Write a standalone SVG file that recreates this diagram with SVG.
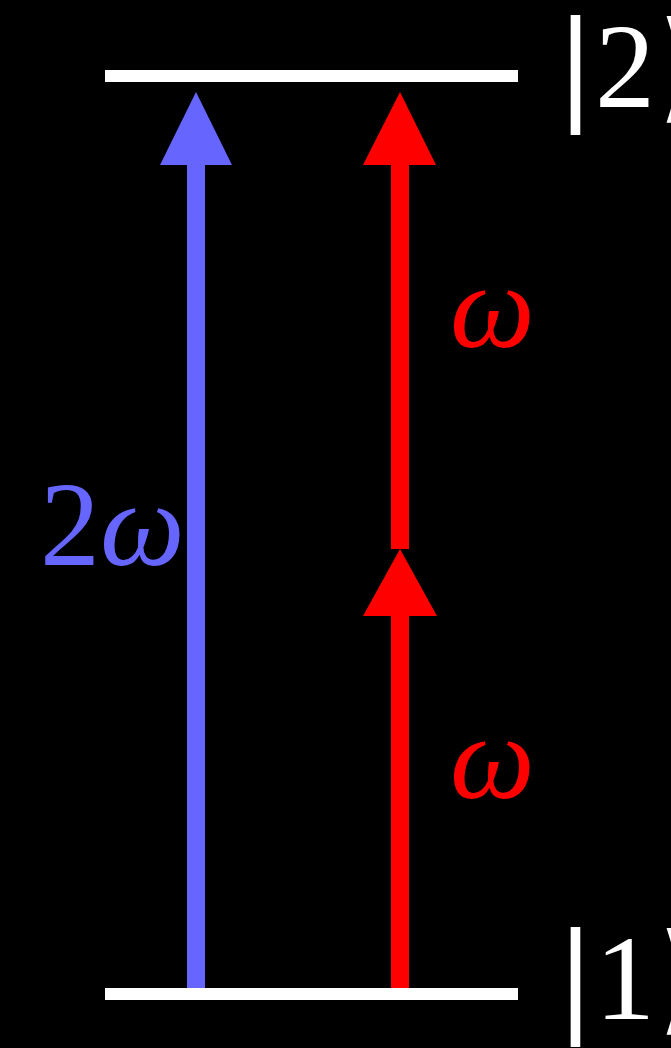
<svg xmlns="http://www.w3.org/2000/svg" width="671" height="1048" viewBox="0 0 671 1048">
<style>
.lvl{stroke:#fff;stroke-width:12;fill:none}
.t{font-size:120px}
.ser{font-family:"Liberation Serif","DejaVu Serif",serif}
.dj{font-family:"DejaVu Serif",serif}
.it{font-style:italic}
.w{fill:#fff}
.blue{fill:#6666ff}
.red{fill:#ff0000}
</style>
<rect width="671" height="1048" fill="#000"/>
<g id="level2">
<line class="lvl" x1="105" y1="76" x2="518" y2="76"/>
<text class="t w dj" x="575.5" y="107" text-anchor="middle">|</text>
<text class="t w ser" x="595" y="107">2</text>
<text class="t w dj" x="657" y="107">⟩</text>
</g>
<g id="level1">
<line class="lvl" x1="105" y1="994" x2="518" y2="994"/>
<text class="t w dj" x="575.5" y="1019" text-anchor="middle">|</text>
<text class="t w ser" x="595" y="1019">1</text>
<text class="t w dj" x="657" y="1019">⟩</text>
</g>
<g id="connectors">
<g id="blue-arrow">
<rect class="blue" x="187" y="160" width="18" height="828"/>
<polygon class="blue" points="196,92 232,165 160,165"/>
</g>
<g id="red-arrow-lower">
<rect class="red" x="391" y="612" width="18" height="376"/>
<polygon class="red" points="400,549 437,616 363,616"/>
</g>
<g id="red-arrow-upper">
<rect class="red" x="391" y="160" width="18" height="389"/>
<polygon class="red" points="400,92 436,165 363,165"/>
</g>
</g>
<g id="label-2w">
<text class="t blue ser" x="40" y="565">2<tspan class="it">ω</tspan></text>
</g>
<g id="label-w-upper">
<text class="t red ser it" x="450" y="347">ω</text>
</g>
<g id="label-w-lower">
<text class="t red ser it" x="450" y="798">ω</text>
</g>
</svg>
